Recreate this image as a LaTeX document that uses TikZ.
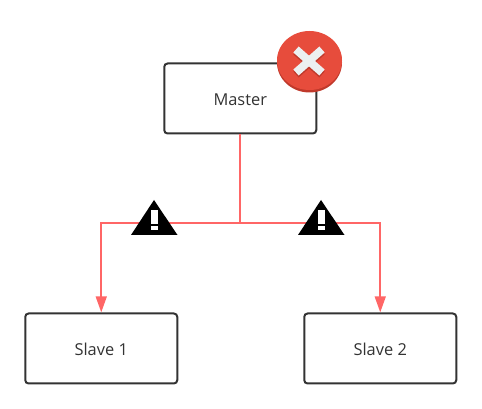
\documentclass[tikz,border=0pt]{standalone}
\usepackage{xcolor}
\usepackage{fontspec}
\setmainfont{Open Sans}
\usetikzlibrary{arrows.meta, positioning, calc}

\definecolor{boxline}{HTML}{333333}
\definecolor{linkred}{HTML}{FF6666}
\definecolor{badgered}{HTML}{E74C3C}
\definecolor{badgedark}{HTML}{C0392B}
\definecolor{crosswhite}{HTML}{ECF0F1}

\tikzset{
  serverbox/.style={draw=boxline, line width=1.5pt, rounded corners=2.5pt, fill=white, minimum width=114pt, minimum height=52.5pt, text=boxline, text height=11pt, text depth=0pt, font=\fontsize{12.3}{14}\selectfont},
  link/.style={draw=linkred, line width=1.75pt},
  warnicon/.style={fill=black}
}

\begin{document}
\begin{tikzpicture}[x=0.75pt, y=-0.75pt]
\useasboundingbox (0,0) rectangle (482,409);

% Servers
\node[serverbox] (master) at (240.25,98.5) {Master};
\node[serverbox] (slave1) at (101.25,348.5) {Slave 1};
\node[serverbox] (slave2) at (380.25,348.5) {Slave 2};

% Replication links
\coordinate (split) at (240.25,223);
\draw[link] (master.south) -- (split);
\draw[link, -{Triangle[length=12pt, width=8pt]}] (split) -| (slave1.north);
\draw[link, -{Triangle[length=12pt, width=8pt]}] (split) -| (slave2.north);

% Broken link warnings
\fill[warnicon] (154,200) -- (177.5,235) -- (131,235) -- cycle;
\fill[white] (151,210) rectangle (158,224);
\fill[white] (151,226) rectangle (158,230);
\fill[warnicon] (321,200) -- (344.5,235) -- (298,235) -- cycle;
\fill[white] (318,210) rectangle (325,224);
\fill[white] (318,226) rectangle (325,230);

% Failed master badge
\fill[badgedark] (309.5,62.5) ellipse [x radius=32.5, y radius=30];
\fill[badgered] (309.5,60.5) ellipse [x radius=32.5, y radius=29.5];
\draw[badgedark, line width=6pt] (296,51.5) -- (322,74.5);
\draw[badgedark, line width=6pt] (322,51.5) -- (296,74.5);
\draw[crosswhite, line width=6pt] (296,49.5) -- (322,72.5);
\draw[crosswhite, line width=6pt] (322,49.5) -- (296,72.5);
\end{tikzpicture}
\end{document}
